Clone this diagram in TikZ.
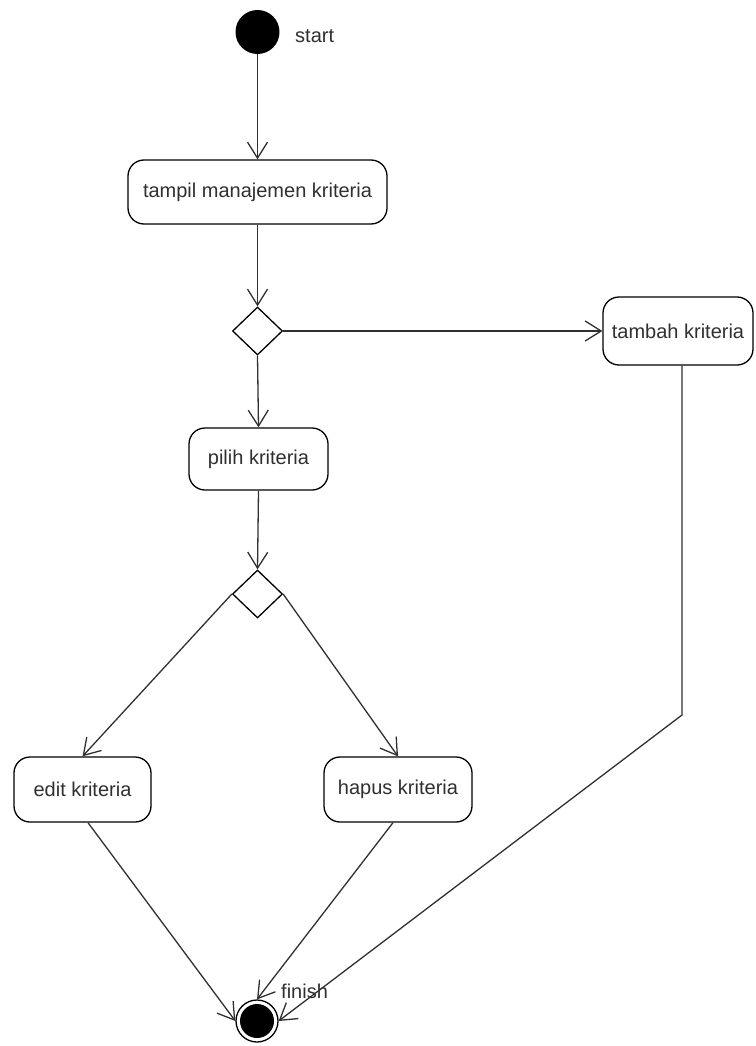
\documentclass[tikz,border=0pt]{standalone}
\usepackage{fontspec}
\setmainfont{Liberation Sans}
\usetikzlibrary{arrows.meta,shapes.geometric}
\definecolor{ink}{HTML}{303030}
\tikzset{
  act/.style={draw=black, line width=1.3pt, rounded corners=16pt, fill=white,
    inner sep=0pt, font=\fontsize{20}{22}\selectfont, text=ink},
  decision/.style={diamond, draw=black, line width=1.3pt, fill=white, inner sep=0pt,
    minimum width=50pt, minimum height=48pt},
  flow/.style={draw=ink, line width=1.3pt,
    -{Straight Barb[length=16pt, width=20pt, line width=1.3pt]}},
  lbl/.style={font=\fontsize{20}{22}\selectfont, text=ink, anchor=west, inner sep=0pt}
}
\begin{document}
\begin{tikzpicture}[x=1pt, y=-1pt]
  \useasboundingbox (0,0) rectangle (755,1046);

  % initial and final states
  \node[circle, fill=black, minimum size=44pt, inner sep=0pt] (S) at (257.5,32) {};
  \node[lbl] (Slbl) at (295,36) {start};
  \node[circle, draw=black, line width=1.3pt, minimum size=42pt, inner sep=0pt,
    path picture={\fill[black] (path picture bounding box.center) circle (17pt);}]
    (F) at (257,1021) {};
  \node[lbl] (Flbl) at (281,991) {finish};

  % activities
  \node[act, minimum width=259pt, minimum height=64pt] (A) at (257.5,192) {tampil manajemen kriteria};
  \node[act, minimum width=150pt, minimum height=68pt] (B) at (678,331) {tambah kriteria};
  \node[act, minimum width=139pt, minimum height=62pt] (C) at (258.5,459) {pilih kriteria};
  \node[act, minimum width=137pt, minimum height=65pt] (E) at (82.5,789.5) {edit kriteria};
  \node[act, minimum width=148pt, minimum height=65pt] (H) at (398,789.5) {hapus kriteria};

  % decisions
  \node[decision] (D1) at (257.5,331) {};
  \node[decision] (D2) at (257.5,594) {};

  \coordinate (bend) at (682,715);

  % transitions
  \draw[flow] (S) -- (A.north);
  \draw[flow] (A.south) -- (D1.north);
  \draw[flow] (D1.east) -- (B.west);
  \draw[flow] (D1.south) -- (C.north);
  \draw[flow] (C.south) -- (D2.north);
  \draw[flow] (D2.west) -- (E.north);
  \draw[flow] (D2.east) -- (H.north);
  \draw[flow] ([xshift=5.5pt]E.south) -- (F.west);
  \draw[flow] ([xshift=-5pt]H.south) -- (F.north);
  \draw[flow] ([xshift=4pt]B.south) -- (bend) -- (F.east);
\end{tikzpicture}
\end{document}
